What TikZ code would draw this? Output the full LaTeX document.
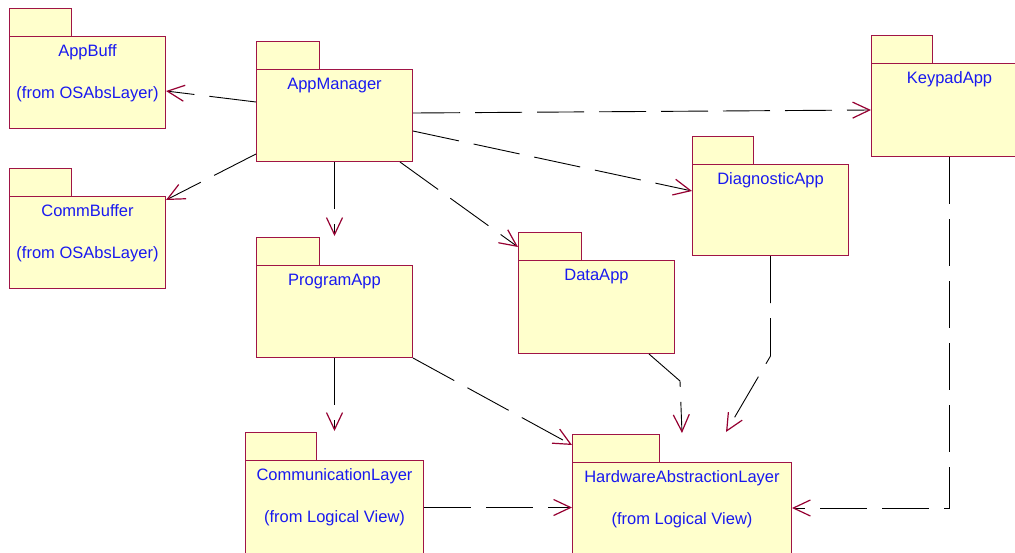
\documentclass[tikz,border=0pt]{standalone}
\usepackage{fontspec}
\setmainfont{Liberation Sans}
\usetikzlibrary{arrows.meta}

\definecolor{pkgfill}{RGB}{255,255,204}
\definecolor{pkgborder}{RGB}{160,20,70}
\definecolor{tipred}{RGB}{150,0,50}
\definecolor{pkgtextcol}{RGB}{25,25,240}

\tikzset{
  pkgbody/.style={draw=pkgborder, fill=pkgfill, line width=1pt, inner sep=0pt,
                  anchor=north west},
  pkgtab/.style={draw=pkgborder, fill=pkgfill, line width=1pt},
  pkgtext/.style={text=pkgtextcol, font=\fontsize{16.5}{19}\selectfont,
                  inner sep=0pt, anchor=base},
  dep/.style={draw=black, line width=0.9pt, dash pattern=on 47pt off 15pt,
              -{Straight Barb[length=17pt,width=16pt,line width=1.2pt,color=tipred]}},
}

% package: name, x, y of body top, width, height, tab width, title, subtitle
\newcommand\umlpkg[8]{%
  \node[pkgbody, minimum width=#4pt, minimum height=#5pt] (#1) at (#2,#3) {};
  \filldraw[pkgtab] (#1.north west) rectangle ++(#6,-28);
  \node[pkgtext] (#1-title) at ([yshift=-20pt]#1.north) {#7};
  \node[pkgtext] (#1-sub) at ([yshift=-62pt]#1.north) {#8};
}

\begin{document}
\begin{tikzpicture}[x=1pt,y=-1pt]
\clip (0,0) rectangle (1015,552);
\fill[white] (0,0) rectangle (1015,552);

\umlpkg{ab}{9}{36}{156}{92}{62}{AppBuff}{(from OSAbsLayer)}
\umlpkg{cb}{9}{196}{156}{92}{62}{CommBuffer}{(from OSAbsLayer)}
\umlpkg{am}{256}{69}{156}{92}{63}{AppManager}{}
\umlpkg{kp}{871}{63}{156}{93}{61}{KeypadApp}{}
\umlpkg{dg}{692}{164}{156}{91}{61}{DiagnosticApp}{}
\umlpkg{pa}{256}{265}{156}{92}{63}{ProgramApp}{}
\umlpkg{da}{518}{260}{156}{93}{63}{DataApp}{}
\umlpkg{cl}{245}{460}{178}{94}{71}{CommunicationLayer}{(from Logical View)}
\umlpkg{hal}{572}{462}{219}{94}{87}{HardwareAbstractionLayer}{(from Logical View)}

% dependencies of the application manager
\draw[dep] ([yshift=-33pt]am.north west) -- ([yshift=-55pt]ab.north east);
\draw[dep] ([yshift=-85pt]am.north west) -- ([yshift=-4pt]cb.north east);
\draw[dep] (am.south) -- ([yshift=29pt]pa.north);
\draw[dep] ([xshift=-13pt]am.south east) -- ([yshift=13pt]da.north west);
\draw[dep] ([yshift=-44pt]am.north east) -- ([yshift=-47pt]kp.north west);
\draw[dep] ([yshift=-62pt]am.north east) -- ([yshift=-27pt]dg.north west);

% dependencies of the applications on the lower layers
\draw[dep] (pa.south) -- ([yshift=29pt]cl.north);
\draw[dep] (pa.south east) -- ([yshift=17pt]hal.north west);
\draw[dep] ([xshift=-26pt]da.south east) -- ++(31,27) -- ([yshift=29pt]hal.north);
\draw[dep] (dg.south) -- ++(0,100) -- ([xshift=44pt,yshift=30pt]hal.north);
\draw[dep] (kp.south) |- ([yshift=-46pt]hal.north east);
\draw[dep] (cl.east) -- (cl.east -| hal.west);
\end{tikzpicture}
\end{document}
